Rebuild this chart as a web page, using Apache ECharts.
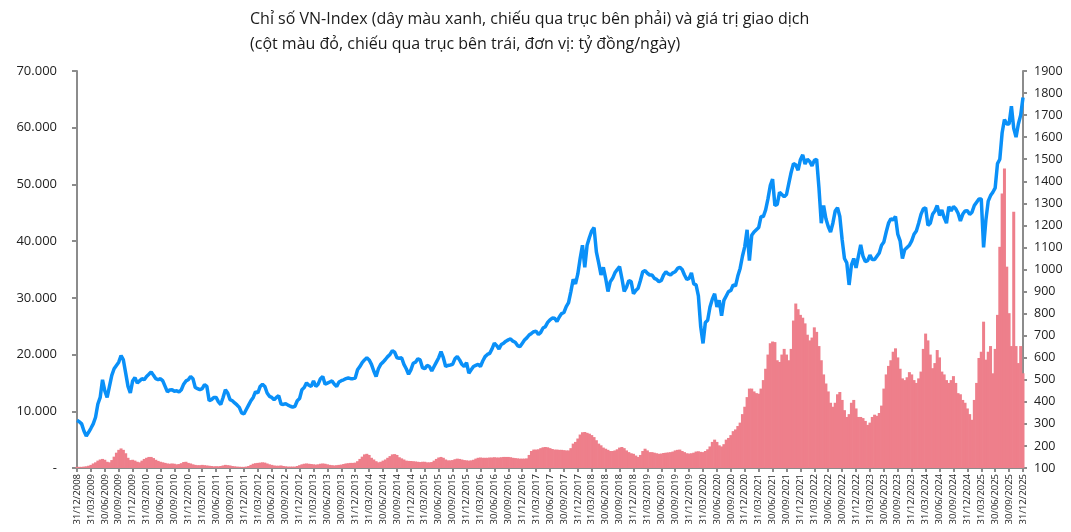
<!DOCTYPE html>
<html>
<head>
<meta charset="utf-8">
<script src="https://cdn.jsdelivr.net/npm/echarts@6/dist/echarts.min.js"></script>
<style>
  html, body { margin: 0; padding: 0; background: #fff; }
  #chart { width: 1071px; height: 532px; }
</style>
</head>
<body>
<div id="chart"></div>
<script>
// quarter-end tick labels, one every 6 half-month points
var quarterLabels = [
  "31/12/2008",
  "31/03/2009","30/06/2009","30/09/2009","31/12/2009",
  "31/03/2010","30/06/2010","30/09/2010","31/12/2010",
  "31/03/2011","30/06/2011","30/09/2011","31/12/2011",
  "31/03/2012","30/06/2012","30/09/2012","31/12/2012",
  "31/03/2013","30/06/2013","30/09/2013","31/12/2013",
  "31/03/2014","30/06/2014","30/09/2014","31/12/2014",
  "31/03/2015","30/06/2015","30/09/2015","31/12/2015",
  "31/03/2016","30/06/2016","30/09/2016","31/12/2016",
  "31/03/2017","30/06/2017","30/09/2017","31/12/2017",
  "31/03/2018","30/06/2018","30/09/2018","31/12/2018",
  "31/03/2019","30/06/2019","30/09/2019","31/12/2019",
  "31/03/2020","30/06/2020","30/09/2020","31/12/2020",
  "31/03/2021","30/06/2021","30/09/2021","31/12/2021",
  "31/03/2022","30/06/2022","30/09/2022","31/12/2022",
  "31/03/2023","30/06/2023","30/09/2023","31/12/2023",
  "31/03/2024","30/06/2024","30/09/2024","31/12/2024",
  "31/03/2025","30/06/2025","30/09/2025","31/12/2025"
];

// VN-Index, mid-month and month-end readings (right axis)
var vnIndex = [
  316,
  // 2009
  310,300, 268,245, 262,280, 300,330, 390,420, 500,450, 420,470, 520,550, 565,580, 610,590, 530,470, 440,495,
  // 2010
  510,485, 495,505, 500,515, 525,536, 520,505, 500,505, 495,470, 445,454, 455,448, 450,445, 455,480, 495,500,
  // 2011
  515,505, 465,460, 455,460, 478,470, 405,410, 420,420, 400,388, 420,455, 440,410, 405,395, 386,375, 350,345,
  // 2012
  365,385, 405,420, 446,440, 470,480, 470,440, 425,420, 410,420, 428,390, 388,392, 385,380, 376,380, 405,415,
  // 2013
  455,465, 486,475, 470,495, 470,480, 505,515, 480,485, 490,495, 480,470, 490,496, 500,505, 508,505, 505,508,
  // 2014
  545,560, 578,590, 600,590, 570,540, 515,550, 570,580, 592,605, 615,632, 625,600, 598,600, 570,550, 525,545,
  // 2015
  575,580, 595,590, 555,550, 565,560, 540,560, 580,600, 628,600, 560,565, 567,570, 595,605, 590,570, 560,578,
  // 2016
  530,545, 560,565, 570,560, 585,605, 615,620, 640,666, 655,640, 660,666, 675,681, 685,675, 670,655, 650,665,
  // 2017
  680,690, 703,710, 718,720, 705,715, 735,741, 760,772, 780,779, 764,785, 800,805, 832,850, 900,955, 935,980,
  // 2018
  1050,1110, 1010,1110, 1145,1175, 1190,1080, 1030,975, 1010,960, 900,945, 960,985, 1000,1013, 960,900, 920,950, 945,890,
  // 2019
  905,915, 950,990, 995,983, 975,975, 960,955, 945,950, 975,990, 980,975, 985,990, 1005,1010, 1000,975, 955,960,
  // 2020
  985,935, 930,880, 740,665, 760,770, 830,865, 890,830, 860,790, 860,880, 900,905, 930,925, 970,1005, 1060,1104,
  // 2021
  1180,1040, 1155,1170, 1180,1190, 1240,1240, 1270,1320, 1380,1410, 1290,1295, 1350,1340, 1330,1340, 1390,1440, 1480,1475, 1450,1498,
  // 2022
  1520,1478, 1500,1490, 1470,1495, 1500,1370, 1210,1290, 1230,1195, 1170,1210, 1265,1280, 1240,1135, 1050,1030, 930,1020, 1050,1007,
  // 2023
  1060,1112, 1060,1036, 1040,1065, 1045,1045, 1060,1075, 1110,1125, 1170,1210, 1230,1225, 1240,1160, 1130,1050, 1090,1100, 1110,1130,
  // 2024
  1160,1175, 1210,1250, 1275,1280, 1200,1210, 1250,1265, 1290,1245, 1270,1235, 1210,1285, 1265,1285, 1275,1255, 1220,1250, 1265,1266,
  // 2025
  1250,1260, 1290,1305, 1320,1320, 1100,1225, 1310,1335, 1350,1370, 1480,1500, 1620,1680, 1660,1660, 1740,1640, 1600,1660, 1700,1780
];

// trading value, ty dong/ngay (left axis)
var tradingValue = [
  200,
  // 2009
  200,200, 250,300, 400,550, 800,1000, 1300,1500, 1600,1450, 1100,1000, 1400,2000, 2700,3200, 3450,3200, 2600,1800, 1400,1450,
  // 2010
  1300,1100, 1000,1300, 1600,1800, 1950,1950, 1750,1450, 1250,1100, 1000,900, 800,750, 800,750, 650,700, 850,1050, 1100,900,
  // 2011
  800,650, 550,500, 500,550, 500,450, 400,350, 300,320, 300,350, 450,550, 500,450, 350,300, 250,220, 200,200,
  // 2012
  250,350, 550,750, 850,900, 950,1000, 950,800, 650,550, 450,400, 400,450, 350,300, 250,250, 250,250, 350,500,
  // 2013
  650,750, 800,750, 700,650, 600,650, 750,800, 750,650, 550,500, 450,500, 550,600, 700,800, 850,900, 900,950,
  // 2014
  1200,1600, 2000,2400, 2500,2300, 1800,1500, 1200,1000, 1100,1300, 1500,1800, 2100,2400, 2450,2300, 1900,1700, 1500,1300, 1250,1230,
  // 2015
  1200,1150, 1100,1050, 1100,1100, 1000,1000, 1050,1300, 1600,1850, 1950,1800, 1500,1350, 1350,1400, 1550,1650, 1600,1500, 1400,1350,
  // 2016
  1300,1350, 1450,1650, 1800,1850, 1800,1800, 1800,1850, 1850,1900, 1850,1850, 1900,1950, 1950,1950, 1900,1800, 1750,1700, 1650,1650,
  // 2017
  1650,1700, 2300,3000, 3250,3250, 3300,3500, 3650,3700, 3650,3500, 3350,3250, 3250,3200, 3200,3150, 3100,3100, 3500,4300, 4600,5200,
  // 2018
  5900,6300, 6350,6200, 6050,5800, 5450,4900, 4300,4000, 3600,3400, 3200,3000, 3000,3100, 3300,3600, 3700,3500, 3100,2800, 2600,2500,
  // 2019
  2200,1950, 2300,3000, 3400,3100, 2800,2800, 2700,2600, 2500,2550, 2650,2700, 2750,2800, 2900,3100, 3200,3250, 3000,2800, 2600,2550,
  // 2020
  2600,2700, 2900,2950, 2850,2800, 3000,3300, 3800,4600, 5000,4600, 4000,3800, 4200,5000, 5300,5800, 6500,6800, 7400,8000, 9500,10800,
  // 2021
  12500,14000, 14000,13500, 13200,13100, 14000,15500, 17500,20000, 22000,22300, 22200,19000, 18700,20000, 21000,20000, 19000,21000, 26000,29000, 28000,27000,
  // 2022
  26500,25500, 23500,22500, 23000,24800, 24000,21500, 19000,16500, 14900,13500, 11500,10800, 11500,13000, 13400,12000, 10200,9000, 9500,11500, 12000,10500,
  // 2023
  9000,9000, 8800,8300, 7600,8000, 9000,9400, 9200,9700, 11000,14000, 16500,18000, 19000,20500, 21100,19500, 17500,15800, 15500,16000, 16900,16500,
  // 2024
  15500,15000, 15800,17000, 21000,23700, 22500,20000, 17600,18500, 20800,19500, 17000,16500, 15500,15000, 15500,16200, 15000,13200, 13000,12000, 11500,10500,
  // 2025
  9500,8500, 12000,15000, 19400,20500, 25800,19100, 20500,21500, 16700,21000, 27000,39000, 48400,52800, 35500,27300, 21500,45200, 21500,18500, 21500,16700
];

var categories = [];
for (var i = 0; i < vnIndex.length; i++) {
    categories.push(String(i));
}

function isQuarter(index) {
    return index % 6 === 0;
}

function thousands(v) {
    if (v === 0) return '-';
    return String(v).replace(/\B(?=(\d{3})+(?!\d))/g, '.');
}

var FONT = "'Open Sans', 'Noto Sans', sans-serif";
var AXIS_GRAY = '#8c8c8c';

var chart = echarts.init(document.getElementById('chart'));

var option = {
    animation: false,
    title: {
        text: 'Chỉ số VN-Index (dây màu xanh, chiếu qua trục bên phải) và giá trị giao dịch\n(cột màu đỏ, chiếu qua trục bên trái, đơn vị: tỷ đồng/ngày)',
        left: 245,
        top: 2,
        textStyle: {
            fontFamily: FONT,
            fontSize: 16,
            fontWeight: 'normal',
            color: '#1a1a1a',
            lineHeight: 25
        }
    },
    grid: {
        left: 77,
        right: 48,
        top: 71,
        bottom: 64
    },
    xAxis: {
        type: 'category',
        data: categories,
        boundaryGap: false,
        axisLine: { lineStyle: { color: AXIS_GRAY, width: 2 } },
        axisTick: {
            show: true,
            interval: isQuarter,
            length: 4,
            lineStyle: { color: AXIS_GRAY, width: 2 }
        },
        axisLabel: {
            interval: isQuarter,
            rotate: 90,
            margin: 6,
            fontFamily: FONT,
            fontSize: 9.5,
            color: '#222',
            formatter: function(value, index) { return quarterLabels[index / 6]; }
        },
        splitLine: { show: false }
    },
    yAxis: [{
        type: 'value',
        position: 'left',
        min: 0,
        max: 70000,
        interval: 10000,
        axisLine: { show: true, lineStyle: { color: AXIS_GRAY, width: 2 } },
        axisTick: { show: true, length: 5, lineStyle: { color: AXIS_GRAY, width: 2 } },
        axisLabel: {
            margin: 20,
            fontFamily: FONT,
            fontSize: 13,
            color: '#222',
            formatter: thousands
        },
        splitLine: { show: false }
    }, {
        type: 'value',
        position: 'right',
        min: 100,
        max: 1900,
        interval: 100,
        axisLine: { show: true, lineStyle: { color: AXIS_GRAY, width: 2 } },
        axisTick: { show: true, length: 4, lineStyle: { color: AXIS_GRAY, width: 2 } },
        axisLabel: {
            margin: 11,
            fontFamily: FONT,
            fontSize: 12.5,
            color: '#222',
            formatter: function(v) { return String(v); }
        },
        splitLine: { show: false }
    }],
    series: [{
        name: 'Giá trị giao dịch',
        type: 'bar',
        yAxisIndex: 0,
        data: tradingValue,
        barWidth: 3,
        itemStyle: { color: '#ee7f8b' },
        z: 1
    }, {
        name: 'VN-Index',
        type: 'line',
        yAxisIndex: 1,
        data: vnIndex,
        symbol: 'none',
        lineStyle: { color: '#0a90f8', width: 3.5 },
        z: 3
    }]
};

chart.setOption(option);
</script>
</body>
</html>
